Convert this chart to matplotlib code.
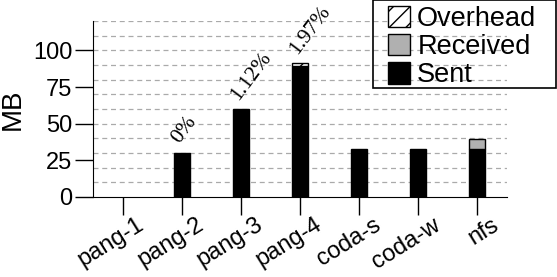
import numpy as np
import matplotlib
matplotlib.use("Agg")
import matplotlib.pyplot as plt
import matplotlib.transforms as mtrans
from matplotlib.patches import Rectangle

# traffic per configuration (MB)
configs = ["pang-1", "pang-2", "pang-3", "pang-4", "coda-s", "coda-w", "nfs"]
sent = [0, 30, 59, 89.3, 32.7, 32.7, 32.7]
received = [0, 0, 0, 0, 0, 0, 6.5]
overhead = [0, 0, 0.66, 1.8, 0, 0, 0]
overhead_labels = {1: "0%", 2: "1.12%", 3: "1.97%"}

plt.rcParams["font.family"] = ["Liberation Sans", "DejaVu Sans"]
plt.rcParams["hatch.linewidth"] = 1.0

fig = plt.figure(figsize=(5.57, 2.77), dpi=100)
ax = fig.add_axes([0.167, 0.289, 0.743, 0.635])

x = np.arange(len(configs))
w = 0.27
sent = np.array(sent)
received = np.array(received)
overhead = np.array(overhead)

# grid lines every 10 MB
for g in np.arange(10, 121, 10):
    ax.axhline(g, color="#aaaaaa", ls=(0, (4, 3)), lw=0.9, zorder=0)

# skip outlines of empty segments
def edges(vals):
    return ["black" if v > 0 else "none" for v in vals]

ax.bar(x, sent, w, color="black", edgecolor=edges(sent), lw=1, label="Sent", zorder=2)
ax.bar(x, received, w, bottom=sent, color="#b0b0b0", edgecolor=edges(received),
       lw=1, label="Received", zorder=2)
ax.bar(x, overhead, w, bottom=sent + received, color="white",
       edgecolor=edges(overhead), hatch="//", lw=1, label="Overhead", zorder=2)

for i, txt in overhead_labels.items():
    top = sent[i] + received[i] + overhead[i]
    ax.text(i + 0.02, top + 4, txt, rotation=53, rotation_mode="anchor",
            ha="left", va="bottom", fontsize=15.5, family="Liberation Serif")

ax.set_xlim(-0.5, 6.5)
ax.set_ylim(0, 120)
ax.set_yticks([0, 25, 50, 75, 100])
ax.set_xticks(x)
ax.tick_params(axis="both", direction="out", length=13, width=1, labelsize=17, pad=2)
ax.set_xticklabels(configs, rotation=32, ha="right", va="top",
                   rotation_mode="anchor")
shift = mtrans.ScaledTranslation(0.14, 0.04, fig.dpi_scale_trans)
for lab in ax.get_xticklabels():
    lab.set_transform(lab.get_transform() + shift)
ax.spines["top"].set_visible(False)
ax.spines["right"].set_visible(False)
ax.set_ylabel("MB", fontsize=20, labelpad=5)

handles, labels = ax.get_legend_handles_labels()
leg = fig.legend(handles[::-1], labels[::-1], loc="upper left",
                 bbox_to_anchor=(388 / 557, 1 - 6 / 277), fontsize=19.5,
                 frameon=False, handlelength=0.83, handleheight=0.83,
                 handletextpad=0.25, labelspacing=0.08, borderpad=0,
                 borderaxespad=0)
for p in leg.get_patches():
    p.set_edgecolor("black")
# legend frame box
fig.patches.append(Rectangle((373 / 557, 1 - 88 / 277), 183 / 557, 88 / 277,
                             transform=fig.transFigure, fill=False,
                             edgecolor="black", lw=1.2))

fig.savefig("out.png", dpi=100)
